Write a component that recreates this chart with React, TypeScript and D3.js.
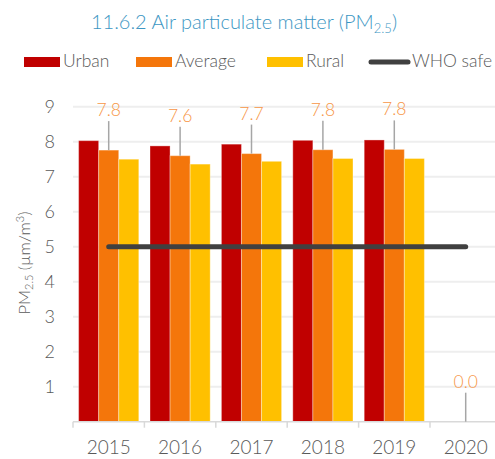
import React from "react";
import * as d3 from "d3";

const years = ["2015", "2016", "2017", "2018", "2019", "2020"];
const seriesNames = ["Urban", "Average", "Rural"];
const urban: (number | null)[] = [8.03, 7.88, 7.93, 8.04, 8.05, null];
const average: (number | null)[] = [7.76, 7.6, 7.66, 7.77, 7.78, 0];
const rural: (number | null)[] = [7.5, 7.36, 7.44, 7.52, 7.52, null];
const whoSafe = 5;
const yTicks = [1, 2, 3, 4, 5, 6, 7, 8, 9];
const colors = ["#C00000", "#F4760B", "#FFC000"];
const whoColor = "#404040";
const labelColor = "#F79646";
const textColor = "#595959";
const FONT = "Lato, 'Open Sans', sans-serif";

export default function App() {
  const W = 495, H = 459;
  const x = d3.scaleBand<string>().domain(years).range([73, 501.4]).padding(0);
  const bw = x.bandwidth();
  const x1 = d3.scaleBand<string>().domain(seriesNames).range([5.6, bw - 5.6]).padding(0);
  const y = d3.scaleLinear().domain([0, 9]).range([421.7, 106.7]);
  const data = [urban, average, rural];

  const legendItems = [
    { name: "Urban", color: colors[0], x: 24 },
    { name: "Average", color: colors[1], x: 136 },
    { name: "Rural", color: colors[2], x: 267 },
  ];

  return (
    <svg width={W} height={H} style={{ position: "absolute", left: 0, top: 0 }} fontFamily={FONT}>
      <rect width={W} height={H} fill="#fff" />
      <text x={244} y={28.5} textAnchor="middle" fontSize={20} fill="#3C96C3" fontWeight={300}>
        11.6.2 Air particulate matter (PM<tspan fontSize={13} dy={4}>2.5</tspan><tspan dy={-4}>)</tspan>
      </text>
      {legendItems.map((l) => (
        <g key={l.name}>
          <rect x={l.x} y={57} width={36} height={10} fill={l.color} />
          <text x={l.x + 39} y={67} fontSize={17.5} fill={textColor} fontWeight={300}>{l.name}</text>
        </g>
      ))}
      <line x1={371} x2={408} y1={62} y2={62} stroke={whoColor} strokeWidth={5} strokeLinecap="round" />
      <text x={412} y={67} fontSize={17.5} fill={textColor} fontWeight={300}>WHO safe</text>

      {yTicks.map((t) => (
        <g key={t}>
          <line x1={73} x2={W} y1={y(t)} y2={y(t)} stroke="#EEEEEE" strokeWidth={2} />
          <text x={55} y={y(t) + 6} textAnchor="end" fontSize={18} fill={textColor} fontWeight={300}>{t}</text>
        </g>
      ))}

      <text transform={`translate(30,263) rotate(-90)`} textAnchor="middle" fontSize={16.5} fill={textColor} fontWeight={300}>
        PM<tspan fontSize={11} dy={3}>2.5</tspan><tspan dy={-3}> (µm/m</tspan><tspan fontSize={11} dy={-6}>3</tspan><tspan dy={6}>)</tspan>
      </text>

      {years.map((yr, i) => (
        <g key={yr} transform={`translate(${x(yr)},0)`}>
          {data.map((s, j) => {
            const v = s[i];
            if (v === null || v === 0) return null;
            return (
              <rect key={j} x={x1(seriesNames[j])} y={y(v)} width={x1.bandwidth()} height={y(0) - y(v)}
                fill={colors[j]} stroke="#ffffff" strokeOpacity={0.35} strokeWidth={1} />
            );
          })}
        </g>
      ))}

      <line x1={73} x2={W} y1={y(0)} y2={y(0)} stroke="#D9D9D9" strokeWidth={1.5} />
      {years.map((yr) => (
        <line key={yr} x1={x(yr)!} x2={x(yr)!} y1={y(0)} y2={y(0) + 6} stroke="#D9D9D9" strokeWidth={1.5} />
      ))}
      {years.map((yr) => (
        <text key={yr} x={x(yr)! + bw / 2} y={454} textAnchor="middle" fontSize={19} fill={textColor} fontWeight={300}>{yr}</text>
      ))}

      <line x1={x(years[0])! + bw / 2} x2={x(years[years.length - 1])! + bw / 2} y1={y(whoSafe)} y2={y(whoSafe)}
        stroke={whoColor} strokeWidth={5} strokeLinecap="round" />

      {years.map((yr, i) => {
        const v = average[i];
        if (v === null) return null;
        const cx = x(yr)! + x1("Average")! + x1.bandwidth() / 2;
        const top = y(v);
        return (
          <g key={yr}>
            <line x1={cx} x2={cx} y1={top - 29} y2={top} stroke="#A6A6A6" strokeWidth={1.5} />
            <text x={cx} y={top - 34} textAnchor="middle" fontSize={17.5} fill={labelColor} fontWeight={300}>{v.toFixed(1)}</text>
          </g>
        );
      })}
    </svg>
  );
}
